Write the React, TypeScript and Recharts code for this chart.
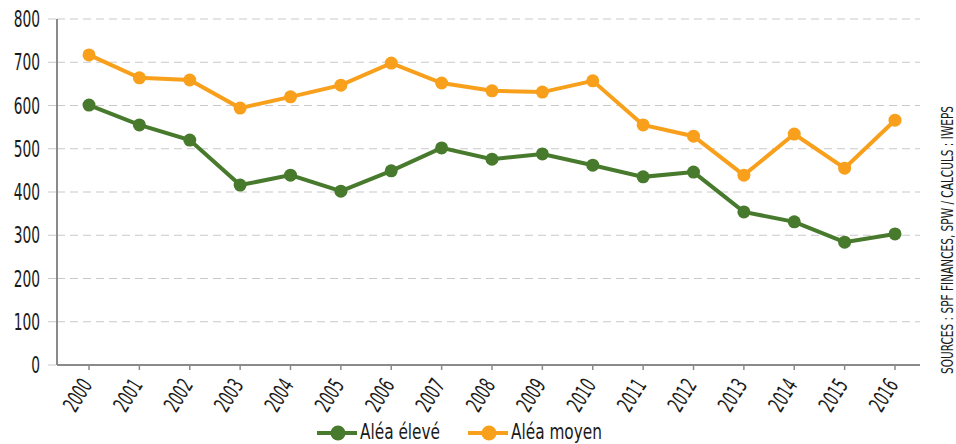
import React from 'react'
import { LineChart, Line, XAxis, YAxis, CartesianGrid, Legend } from 'recharts'

const years = ['2000','2001','2002','2003','2004','2005','2006','2007','2008','2009','2010','2011','2012','2013','2014','2015','2016']
const aleaEleve = [601, 555, 520, 416, 439, 402, 449, 502, 476, 488, 462, 435, 446, 354, 331, 284, 303]
const aleaMoyen = [717, 664, 659, 594, 620, 647, 698, 652, 634, 631, 657, 555, 529, 439, 534, 455, 566]
const yTicks = [0, 100, 200, 300, 400, 500, 600, 700, 800]

const GREEN = '#487a2e'
const ORANGE = '#f8a01c'
const FONT = '"DejaVu Sans", sans-serif'
const INK = '#1a1a1a'
// the labels use a narrow face; squeeze DejaVu horizontally to get there
const SQUEEZE = 0.6

const data = years.map((y, i) => ({ year: y, eleve: aleaEleve[i], moyen: aleaMoyen[i] }))

const series = [
  { key: 'eleve', name: 'Aléa élevé', color: GREEN, x: 317 },
  { key: 'moyen', name: 'Aléa moyen', color: ORANGE, x: 468 },
]

function YearTick({ x, y, payload }: any) {
  return (
    <g transform={`translate(${x + 4},${y + 13})`}>
      <text x={0} y={0} textAnchor="end" transform={`rotate(-58) scale(${SQUEEZE},1)`}
        fontFamily={FONT} fontSize={22} fill={INK}>
        {payload.value}
      </text>
    </g>
  )
}

function ValueTick({ x, y, payload }: any) {
  return (
    <g transform={`translate(${x},${y})`}>
      <text x={0} y={0} dy={8} textAnchor="end" transform={`scale(${SQUEEZE},1)`}
        fontFamily={FONT} fontSize={23} fill={INK}>
        {payload.value}
      </text>
    </g>
  )
}

function LegendRow() {
  return (
    <svg width={956} height={27} style={{ display: 'block', overflow: 'visible' }}>
      {series.map(s => (
        <g key={s.key}>
          <line x1={s.x} y1={16} x2={s.x + 40} y2={16} stroke={s.color} strokeWidth={4} />
          <circle cx={s.x + 21} cy={16} r={7.5} fill={s.color} />
          <text x={0} y={22} transform={`translate(${s.x + 43},0) scale(0.73,1)`}
            fontFamily={FONT} fontSize={21} fill={INK}>
            {s.name}
          </text>
        </g>
      ))}
    </svg>
  )
}

export default function App() {
  return (
    <div style={{ position: 'absolute', left: 0, top: 0, width: 956, height: 444, background: '#fff' }}>
      <LineChart width={956} height={444} data={data} margin={{ top: 19, right: 36, bottom: 0, left: 0 }}>
        <CartesianGrid vertical={false} stroke="#c9c9c9" strokeDasharray="8 5" strokeWidth={1.2} />
        <XAxis dataKey="year" interval={0} height={52} padding={{ left: 32, right: 25 }}
          axisLine={{ stroke: '#8a8a8a', strokeWidth: 2 }}
          tickLine={{ stroke: '#8a8a8a', strokeWidth: 1.5 }} tickSize={5}
          tick={<YearTick />} />
        <YAxis domain={[0, 800]} ticks={yTicks} width={57} interval={0}
          axisLine={{ stroke: '#8a8a8a', strokeWidth: 2 }}
          tickLine={{ stroke: '#c9c9c9', strokeDasharray: '8 5' }} tickSize={9} tickMargin={8}
          tick={<ValueTick />} />
        <Legend verticalAlign="bottom" height={27} content={() => <LegendRow />}
          wrapperStyle={{ left: 0, width: 956 }} />
        {series.map(s => (
          <Line key={s.key} dataKey={s.key} name={s.name} type="linear" stroke={s.color}
            strokeWidth={4} dot={{ r: 6.5, fill: s.color, stroke: s.color, strokeWidth: 0 }}
            activeDot={false} isAnimationActive={false} />
        ))}
      </LineChart>
      <svg width={30} height={444} style={{ position: 'absolute', left: 934, top: 0 }}>
        <text x={0} y={0} textAnchor="middle"
          transform={`translate(19,240) rotate(-90) scale(0.66,1)`}
          fontFamily={FONT} fontSize={16} fill={INK}>
          SOURCES : SPF FINANCES, SPW / CALCULS : IWEPS
        </text>
      </svg>
    </div>
  )
}
